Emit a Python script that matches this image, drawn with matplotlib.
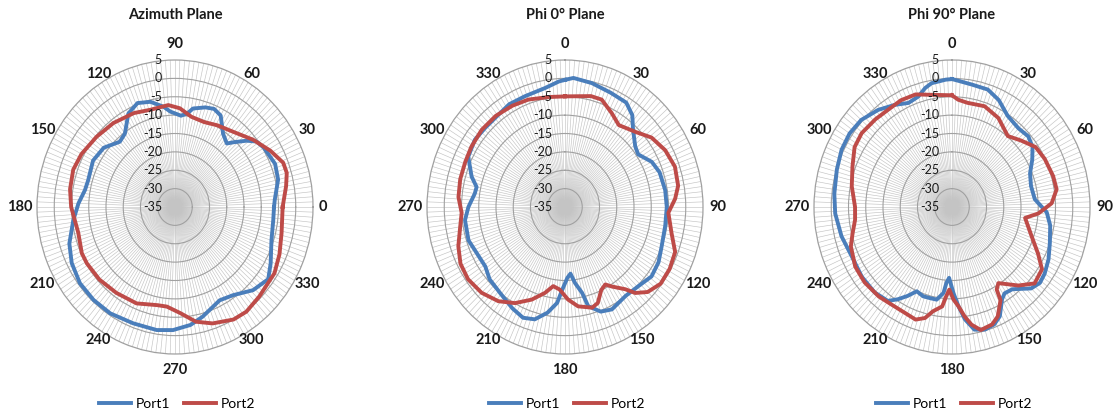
import numpy as np
import matplotlib
matplotlib.use('Agg')
import matplotlib.pyplot as plt
from matplotlib.transforms import offset_copy

plt.rcParams['font.family'] = ['Lato', 'DejaVu Sans']

# ---------------- data ----------------
titles = ['Azimuth Plane', 'Phi 0\u00b0 Plane', 'Phi 90\u00b0 Plane']
series_names = ['Port1', 'Port2']
r_ticks = [5, 0, -5, -10, -15, -20, -25, -30, -35]
angle_ticks = [0, 30, 60, 90, 120, 150, 180, 210, 240, 270, 300, 330]

az_p1_deg = [0, 4, 14, 22, 32, 37, 41, 46, 49, 55, 62, 67, 72, 79, 82, 86, 93, 97, 104, 111,
             118, 126, 132, 142, 152, 164, 170, 178, 187, 198, 207, 217, 227, 237, 249, 261,
             269, 278, 285, 292, 297, 305, 315, 324, 331, 342, 353]
az_p1_val = [-6.3, -6.0, -4.2, -3.7, -4.6, -5.4, -7.5, -10.5, -12.1, -10.7, -6.8, -6.0, -6.5,
             -7.7, -9.3, -10.1, -9.0, -7.5, -5.5, -4.7, -6.2, -10.3, -11.1, -8.8, -8.1, -8.8,
             -8.5, -7.0, -5.3, -2.8, -1.4, -0.5, -0.4, -0.5, -1.1, -1.1, -1.5, -2.6, -4.1,
             -5.7, -6.5, -5.7, -3.0, -1.6, -3.3, -5.6, -6.3]

az_p2_deg = [0, 10, 16, 21, 29, 39, 50, 61, 70, 79, 87, 94, 105, 115, 128, 140, 152, 161, 171,
             180, 194, 205, 211, 222, 234, 247, 259, 265, 273, 281, 289, 299, 306, 315, 328,
             337, 347]
az_p2_val = [-3.8, -2.3, -1.3, -1.4, -3.4, -5.9, -8.4, -9.6, -10.4, -10.0, -8.1, -7.2, -7.6,
             -6.8, -6.0, -5.3, -4.3, -3.8, -4.2, -4.9, -6.1, -5.2, -5.2, -5.5, -6.1, -6.5,
             -7.8, -7.8, -6.1, -3.2, -1.5, 0.0, 0.2, -0.5, -1.0, -2.1, -3.3]

ph0_p1_deg = [0, 4, 13, 23, 32, 38, 43, 51, 56, 64, 71, 81, 90, 100, 111, 119, 127, 135, 144,
              154, 160, 166, 168, 172, 175, 178, 182, 185, 190, 196, 202, 209, 219, 228, 235,
              244, 252, 263, 270, 278, 282, 287, 296, 305, 313, 321, 330, 339, 350, 357]
ph0_p1_val = [-0.4, 0.2, -0.4, -1.2, -1.5, -3.3, -6.1, -8.8, -9.4, -7.0, -6.0, -5.6, -5.5,
              -5.5, -5.0, -4.0, -3.6, -4.7, -5.1, -4.0, -4.7, -7.2, -11.1, -14.1, -16.8,
              -15.7, -12.5, -8.8, -5.8, -3.2, -2.5, -3.5, -5.0, -5.6, -6.8, -6.5, -5.6, -5.8,
              -7.0, -8.6, -8.8, -6.7, -3.8, -3.1, -3.4, -3.4, -2.7, -2.7, -2.1, -0.8]

ph0_p2_deg = [0, 14, 20, 28, 35, 45, 53, 62, 71, 80, 86, 93, 103, 111, 119, 127, 134, 139, 142,
              148, 151, 155, 160, 164, 172, 178, 184, 189, 194, 201, 209, 217, 226, 235, 243,
              251, 259, 267, 275, 284, 293, 301, 311, 321, 331, 340, 351]
ph0_p2_val = [-4.9, -3.9, -3.9, -6.1, -7.8, -6.1, -3.6, -2.1, -1.3, -1.7, -3.0, -5.0, -3.3,
              -0.8, -0.3, -0.3, -1.7, -4.0, -6.6, -9.5, -10.9, -10.1, -7.2, -6.5, -7.7, -9.8,
              -12.5, -13.2, -10.9, -8.0, -5.1, -2.9, -1.4, -0.7, -1.0, -2.3, -4.0, -5.0, -4.0,
              -3.7, -3.6, -3.3, -3.0, -3.1, -3.5, -3.9, -4.7]

ph90_p1_deg = [0, 3, 10, 18, 25, 33, 42, 49, 55, 61, 68, 76, 85, 93, 100, 109, 117, 124, 129,
               134, 142, 147, 150, 155, 159, 164, 169, 173, 176, 179, 182.5, 184.5, 186, 190,
               194.5, 199, 204, 208, 212, 216, 224, 234, 245, 256, 267, 276, 287, 296, 304,
               312, 321, 329, 336, 342, 346.5, 350, 357]
ph90_p1_val = [-0.2, -0.6, -1.2, -1.4, -2.9, -5.4, -6.2, -5.7, -6.5, -8.4, -10.6, -11.4, -10.9,
               -7.5, -6.1, -5.0, -3.6, -2.6, -2.2, -3.1, -6.6, -7.0, -6.0, -2.2, -0.8, -0.3,
               -1.0, -4.2, -7.9, -11.6, -15.7, -14.3, -11.5, -9.4, -9.4, -9.3, -9.9, -7.6,
               -5.4, -3.4, -2.7, -2.7, -3.0, -2.0, -1.1, -0.7, -0.1, 0.6, 0.8, 0.4, -1.0,
               -2.6, -4.0, -3.4, -1.7, -0.8, -0.3]

ph90_p2_deg = [0, 3.5, 9, 19, 29, 40, 48, 56, 64, 74, 81, 88, 94, 98, 109, 117, 123, 131, 138,
               147, 150, 151, 156, 160, 166, 170, 173, 176, 179, 182, 184, 186, 191, 194.5,
               199, 205, 213, 221, 231, 240, 250, 256, 263, 270, 281, 291, 300, 307.5, 317,
               325, 333, 341, 349]
ph90_p2_val = [-4.6, -5.75, -6.3, -6.0, -7.3, -9.8, -8.0, -5.8, -5.1, -4.5, -4.3, -6.1, -9.9,
               -13.6, -10.6, -7.0, -3.9, -3.3, -6.25, -10.3, -9.1, -6.0, -2.4, -1.0, -0.5,
               -2.5, -5.0, -7.9, -9.8, -12.5, -10.6, -7.8, -6.1, -3.8, -2.6, -3.1, -3.2, -2.7,
               -2.4, -2.6, -3.8, -5.3, -6.7, -6.9, -5.4, -4.1, -2.4, -2.0, -2.4, -2.7, -2.4,
               -2.6, -3.9]

panels = [
    [(az_p1_deg, az_p1_val), (az_p2_deg, az_p2_val)],
    [(ph0_p1_deg, ph0_p1_val), (ph0_p2_deg, ph0_p2_val)],
    [(ph90_p1_deg, ph90_p1_val), (ph90_p2_deg, ph90_p2_val)],
]

# ---------------- styling / layout ----------------
W, H = 1117, 416
colors = ['#4a7ebb', '#be4b48']
centers_x = [175, 565, 952]
cy = 207
rx, ry = 138, 147
ring_col = '#a0a0a0'
spoke_col = '#c4c4c4'

fig = plt.figure(figsize=(W / 100, H / 100), dpi=100)
fig.patch.set_facecolor('white')

for i, cx in enumerate(centers_x):
    ax = fig.add_axes([(cx - rx) / W, (H - cy - ry) / H, 2 * rx / W, 2 * ry / H],
                      projection='polar')
    ax.set_aspect('auto')
    if i == 0:
        ax.set_theta_zero_location('E')
        ax.set_theta_direction(1)
        top_theta = np.pi / 2
    else:
        ax.set_theta_zero_location('N')
        ax.set_theta_direction(-1)
        top_theta = 0.0
    ax.set_ylim(-35, 5)
    ax.set_xticks(np.deg2rad(np.arange(0, 360, 2)))
    ax.set_xticklabels([])
    ax.set_yticks([-30, -25, -20, -15, -10, -5, 0])
    ax.set_yticklabels([])
    ax.tick_params(axis='both', length=0)
    ax.xaxis.grid(True, color=spoke_col, linewidth=0.45)
    ax.yaxis.grid(True, color=ring_col, linewidth=0.8)
    ax.spines['polar'].set_color(ring_col)
    ax.spines['polar'].set_linewidth(0.9)
    ax.set_facecolor('white')

    lines = []
    for (deg, val), c, name in zip(panels[i], colors, series_names):
        th = np.deg2rad(np.r_[deg, deg[0]])
        rv = np.r_[val, val[0]]
        ln, = ax.plot(th, rv, color=c, linewidth=2.8, solid_joinstyle='round',
                      label=name, zorder=3)
        lines.append(ln)

    # radial value labels along the top spoke
    tr = offset_copy(ax.transData, fig=fig, x=-13, y=0, units='dots')
    for r in r_ticks:
        ax.text(top_theta, r, str(r), transform=tr, ha='right', va='center',
                fontsize=9, color='#1a1a1a', zorder=5, clip_on=False)

    # angle labels
    for a in angle_ticks:
        if i == 0:
            m = np.deg2rad(a)
        else:
            m = np.deg2rad(90 - a)
        c_, s_ = np.cos(m), np.sin(m)
        if abs(c_) < 1e-6:
            dx, dy, ha = 0, 163 * np.sign(s_), 'center'
        elif abs(s_) < 1e-6:
            if c_ > 0:
                dx, dy, ha = 144, 0, 'left'
            else:
                dx, dy, ha = -142, 0, 'right'
        else:
            dx, dy, ha = 153 * c_, 153 * s_, 'center'
        trl = offset_copy(ax.transData, fig=fig, x=dx, y=dy, units='dots')
        ax.text(0, -35, str(a), transform=trl, ha=ha, va='center', fontsize=10.5,
                fontweight='bold', color='#1a1a1a', clip_on=False)

    fig.text(cx / W, 1 - 15 / H, titles[i], ha='center', va='center', fontsize=10.5,
             fontweight='bold', color='#1a1a1a')

    fig.legend(handles=lines, labels=series_names, loc='center',
               bbox_to_anchor=((cx + 2) / W, 12 / H), ncol=2, frameon=False,
               fontsize=10, handlelength=2.3, handletextpad=0.35, columnspacing=1.0,
               borderaxespad=0, borderpad=0)

fig.savefig('out.png', dpi=100, facecolor='white')
